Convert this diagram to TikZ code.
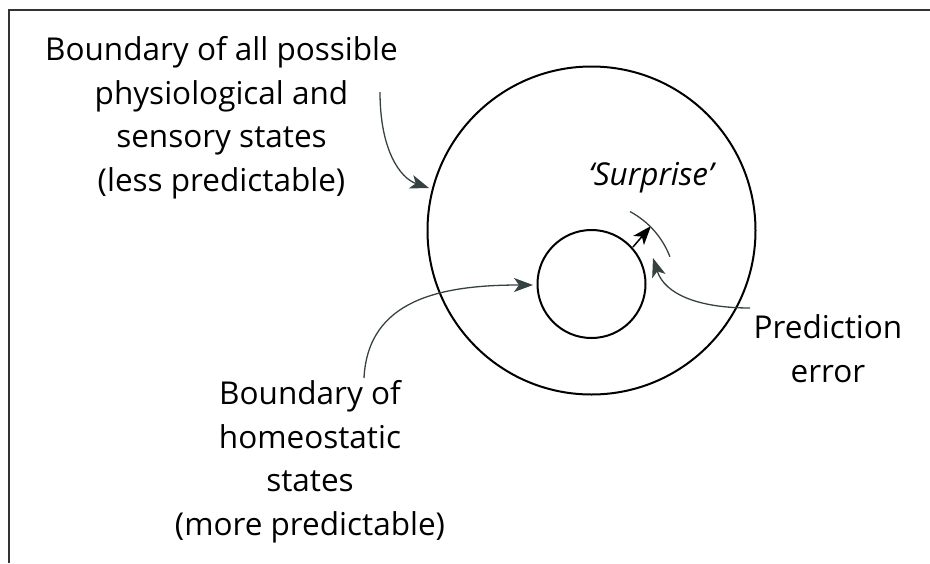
\documentclass[tikz,border=0pt]{standalone}
\usepackage{fontspec}
\setmainfont{Open Sans}
\usetikzlibrary{arrows.meta}
\definecolor{curvegray}{HTML}{364242}
\begin{document}
\begin{tikzpicture}[x=1pt,y=-1pt,
  lbl/.style={align=center,font=\fontsize{31.5}{43.5}\selectfont,inner sep=0pt},
  ring/.style={draw=black,line width=2pt},
  tip/.style={-{Stealth[length=19pt,width=14pt,inset=5pt]}},
  pointer/.style={draw=curvegray,line width=1.3pt,tip},
  frameline/.style={draw=black!80,line width=1.3pt}]
\useasboundingbox (0,0) rectangle (930,563);
% frame
\coordinate (fTL) at (9,10);
\coordinate (fTR) at (930,10);
\coordinate (fBL) at (9,563);
\draw[frameline] (fTR) -- (fTL) -- (fBL);
% circles
\node[ring,circle,minimum size=328pt,inner sep=0pt] (big) at (591.5,230.5) {};
\node[ring,circle,minimum size=108pt,inner sep=0pt] (small) at (591.5,284) {};
% labels
\node[lbl] (lt) at (221.5,117.5) {Boundary of all possible\\physiological and\\sensory states\\(less predictable)};
\node[lbl] (lb) at (310,461.5) {Boundary of\\homeostatic\\states\\(more predictable)};
\node[lbl] (pe) at (828,348.5) {Prediction\\error};
\node[lbl,font=\fontsize{31.5}{36}\selectfont\itshape] (sp) at (651,178) {‘Surprise’};
% coordinates for connectors
\coordinate (a1s) at (380,92);
\coordinate (a1e) at (429,188);
\coordinate (a2s) at (364,378);
\coordinate (a2e) at (533,285);
\coordinate (a3s) at (633,247);
\coordinate (a3e) at (651,226);
\coordinate (a4s) at (750,308);
\coordinate (a4e) at (653,258);
% arrows
\draw[pointer] (a1s) .. controls (380,150) and (400,178) .. (a1e);
\draw[pointer] (a2s) .. controls (368,300) and (440,285) .. (a2e);
\draw[draw=black,line width=1.5pt,tip] (a3s) -- (a3e);
\draw[pointer] (a4s) .. controls (700,308) and (665,295) .. (a4e);
% surprise arc
\draw[curvegray,line width=1.3pt] (small.center) ++(-62:82) arc[start angle=-62,end angle=-21,radius=86];
\end{tikzpicture}
\end{document}
